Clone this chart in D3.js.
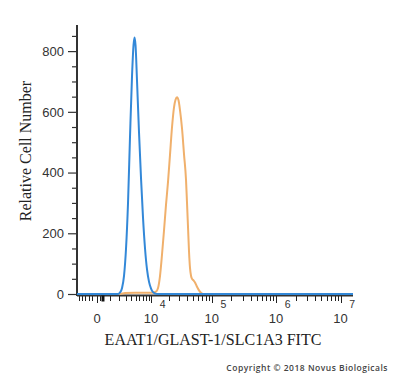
<!DOCTYPE html>
<html>
<head>
<meta charset="utf-8">
<script src="https://cdn.jsdelivr.net/npm/d3@7"></script>
<style>
  html, body { margin: 0; padding: 0; background: #fff; }
  svg { display: block; }
</style>
</head>
<body>
<svg id="chart" width="400" height="378"></svg>
<script>
// ---- data ----
const blueIntensity = [-1770, 1000, 1890, 2150, 2440, 2740, 3070, 3420, 3800, 4210, 4530, 4760, 4990, 5360, 5880, 6440, 7040, 7680, 8380, 9120, 9920, 10770, 11690, 12690, 15400000];
const blueCount     = [0, 0, 0, 5, 20, 60, 150, 300, 520, 720, 820, 845, 820, 700, 530, 380, 250, 150, 80, 40, 18, 6, 2, 0, 0];

const orangeIntensity = [-1770, 1500, 2150, 2900, 4870, 7680, 10340, 12180, 13210, 14300, 15480, 16750, 18120, 19580, 21150, 22830, 24630, 26080, 27610, 29210, 30910, 33320, 35900, 38680, 40120, 41650, 43210, 44850, 46530, 48280, 51000, 53910, 58000, 62410, 67150, 72220, 15400000];
const orangeCount     = [0, 0, 0, 3, 4, 4, 4, 8, 20, 60, 130, 210, 295, 370, 460, 550, 615, 640, 648, 638, 605, 545, 460, 375, 300, 220, 140, 85, 60, 50, 45, 38, 24, 12, 4, 0, 0];

const yMajorTicks = [0, 200, 400, 600, 800];
const yMinorTicks = [50, 100, 150, 250, 300, 350, 450, 500, 550, 650, 700, 750, 850];
const xMajorTicks = [0, 1e4, 1e5, 1e6, 1e7];
const xMajorLabels = [{base: "0", exp: ""}, {base: "10", exp: "4"}, {base: "10", exp: "5"}, {base: "10", exp: "6"}, {base: "10", exp: "7"}];
const xMinorTicks = [-1500, -1200, -900, -600, -300, 200,
  1000, 2000, 3000, 4000, 5000, 6000, 7000, 8000, 9000,
  2e4, 3e4, 4e4, 5e4, 6e4, 7e4, 8e4, 9e4,
  2e5, 3e5, 4e5, 5e5, 6e5, 7e5, 8e5, 9e5,
  2e6, 3e6, 4e6, 5e6, 6e6, 7e6, 8e6, 9e6];
const markerValue = 400;

const xTitle = "EAAT1/GLAST-1/SLC1A3 FITC";
const yTitle = "Relative Cell Number";
const copyright = "Copyright \u00A9 2018 Novus Biologicals";

// ---- scales ----
const svg = d3.select("#chart");
const x = d3.scaleSymlog().constant(1700).domain([-1770, 15400000]).range([77, 353]);
const y = d3.scaleLinear().domain([0, 886]).range([294, 25]);

const axisColor = "#333";
const labelFont = "'Liberation Sans', Arial, sans-serif";

// y axis
const gy = svg.append("g").attr("transform", "translate(77,0)");
gy.append("g").call(d3.axisLeft(y).tickValues(yMinorTicks).tickSize(5).tickFormat(""));
gy.append("g").call(d3.axisLeft(y).tickValues(yMajorTicks).tickSize(9).tickPadding(4).tickFormat(d3.format("d")));
gy.selectAll(".domain").remove();
gy.selectAll("line").attr("stroke", axisColor).attr("stroke-width", 1.2);
gy.selectAll("text").attr("font-family", labelFont).attr("font-size", 13).attr("fill", "#333");
svg.append("line").attr("x1", 77).attr("x2", 77).attr("y1", 25).attr("y2", 296)
  .attr("stroke", axisColor).attr("stroke-width", 2);

// x axis
const axisY = Math.round(y(0) + 1) + 0.5;
const gx = svg.append("g").attr("transform", `translate(0,${axisY})`);
gx.append("g").call(d3.axisBottom(x).tickValues(xMinorTicks).tickSize(5).tickFormat(""));
gx.append("g").call(d3.axisBottom(x).tickValues(xMajorTicks).tickSize(7).tickFormat(""));
gx.selectAll(".domain").remove();
gx.selectAll("line").attr("stroke", "#222").attr("stroke-width", 1).attr("shape-rendering", "crispEdges");
svg.append("line").attr("x1", 77).attr("x2", 353).attr("y1", axisY).attr("y2", axisY)
  .attr("stroke", axisColor).attr("stroke-width", 2);
// small dark marker near zero
svg.append("rect").attr("x", x(markerValue) - 1.5).attr("y", axisY).attr("width", 3).attr("height", 6).attr("fill", "#111");

// x tick labels (base with superscript exponent)
const xl = svg.append("g");
xMajorTicks.forEach((v, i) => {
  const lab = xMajorLabels[i];
  const t = xl.append("text")
    .attr("x", lab.exp ? x(v) - 7.5 : x(v)).attr("y", 323)
    .attr("text-anchor", lab.exp ? "start" : "middle")
    .attr("font-family", labelFont)
    .attr("font-size", 13).attr("fill", "#333");
  t.append("tspan").text(lab.base);
  if (lab.exp) {
    t.append("tspan").attr("dx", 1.5).attr("dy", -15).attr("font-size", 10.5).text(lab.exp);
  }
});

// curves
const line = d3.line().x(d => x(d[0])).y(d => y(d[1])).curve(d3.curveMonotoneX);
const orangeData = orangeIntensity.map((v, i) => [v, orangeCount[i]]);
const blueData = blueIntensity.map((v, i) => [v, blueCount[i]]);

svg.append("path").datum(orangeData).attr("d", line)
  .attr("fill", "none").attr("stroke", "#f0b06c").attr("stroke-width", 2);
svg.append("path").datum(blueData).attr("d", line)
  .attr("fill", "none").attr("stroke", "#3388d8").attr("stroke-width", 2);

// titles
svg.append("text")
  .attr("transform", "translate(31,151) rotate(-90)")
  .attr("text-anchor", "middle")
  .attr("font-family", "'Liberation Serif', 'Times New Roman', serif")
  .attr("font-size", 16).attr("fill", "#222")
  .text(yTitle);

svg.append("text")
  .attr("x", 213).attr("y", 345)
  .attr("text-anchor", "middle")
  .attr("font-family", "'Liberation Serif', 'Times New Roman', serif")
  .attr("font-size", 16).attr("fill", "#222")
  .text(xTitle);

svg.append("text")
  .attr("x", 388).attr("y", 371)
  .attr("text-anchor", "end")
  .attr("font-family", "'Open Sans', 'DejaVu Sans', sans-serif")
  .attr("font-size", 8.5).attr("font-weight", 600)
  .attr("letter-spacing", 0.5)
  .attr("fill", "#444")
  .text(copyright);
</script>
</body>
</html>
